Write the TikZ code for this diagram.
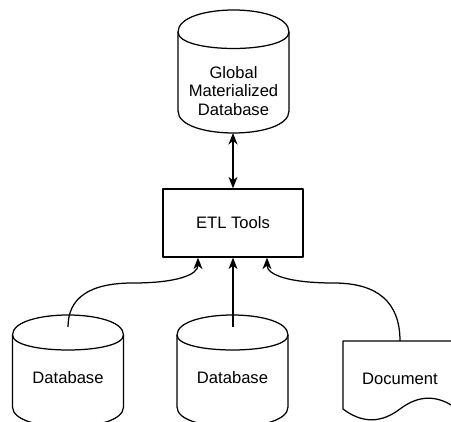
\documentclass[tikz,border=0pt]{standalone}
\usepackage{fontspec}
\setmainfont{Liberation Sans}
\usetikzlibrary{arrows.meta}

\tikzset{
  outline/.style={draw=black, line width=1.25pt, line join=round},
  txt/.style={font=\fontsize{16.6}{18.6}\selectfont, align=center, inner sep=0pt},
  tip/.tip={Stealth[length=11.5pt,width=9pt,inset=3.5pt]},
  conn/.style={draw=black, line width=1.25pt, -tip},
  twoway/.style={draw=black, line width=1.25pt, tip-tip},
}

% cylinder outline: left x, top y, width, height, cap depth
\newcommand\drawcylinder[5]{%
  \draw[outline] (#1,#2+#5) .. controls (#1,#2-#5/3) and (#1+#3,#2-#5/3) .. (#1+#3,#2+#5)
    -- (#1+#3,#2+#4-#5) .. controls (#1+#3,#2+#4+#5/3) and (#1,#2+#4+#5/3) .. (#1,#2+#4-#5) -- cycle;
  \draw[outline] (#1,#2+#5) .. controls (#1,#2+2*#5) and (#1+#3,#2+2*#5) .. (#1+#3,#2+#5);
}

\begin{document}
\begin{tikzpicture}[x=1pt,y=-1pt]
  \useasboundingbox (0,0) rectangle (451,422);
  \clip (0,0) rectangle (451,422);
  \fill[white] (0,0) rectangle (451,422);

  % global store
  \drawcylinder{178}{10}{111}{123}{22}
  \node[txt] (gdb) at (233.5,91) {Global\\Materialized\\Database};
  \coordinate (gdbport) at (233,133);

  % ETL box
  \node[outline, txt, minimum width=140pt, minimum height=68pt] (etl) at (233,223) {ETL Tools};

  % sources
  \drawcylinder{12.5}{315}{111}{112}{20}
  \node[txt] (db1) at (68,378) {Database};
  \coordinate (db1port) at (68,327);

  \drawcylinder{177}{315}{111}{112}{20}
  \node[txt] (db2) at (232.5,378) {Database};
  \coordinate (db2port) at (233,327);

  \draw[outline] (343,341) -- (457,341) -- (457,409)
    .. controls (438,394.6) and (419,394.6) .. (400,409)
    .. controls (381,423.4) and (362,423.4) .. (343,409) -- cycle;
  \node[txt] (doc) at (400,378.5) {Document};
  \coordinate (docport) at (400,341);

  % connectors
  \coordinate (bendL) at (133,283);
  \coordinate (bendR) at (333.5,283);

  \draw[twoway] (gdbport) -- (etl.north);
  \draw[conn] (db2port) -- (etl.south);
  \draw[conn] (db1port) .. controls +(0,-29.3) and +(-43.3,0) .. (bendL)
    .. controls +(43.3,0) and +(0,17.3) .. ([xshift=-35pt]etl.south);
  \draw[conn] (docport) .. controls +(0,-38.7) and +(44.3,0) .. (bendR)
    .. controls +(-44.3,0) and +(0,17.3) .. ([xshift=34pt]etl.south);
\end{tikzpicture}
\end{document}
